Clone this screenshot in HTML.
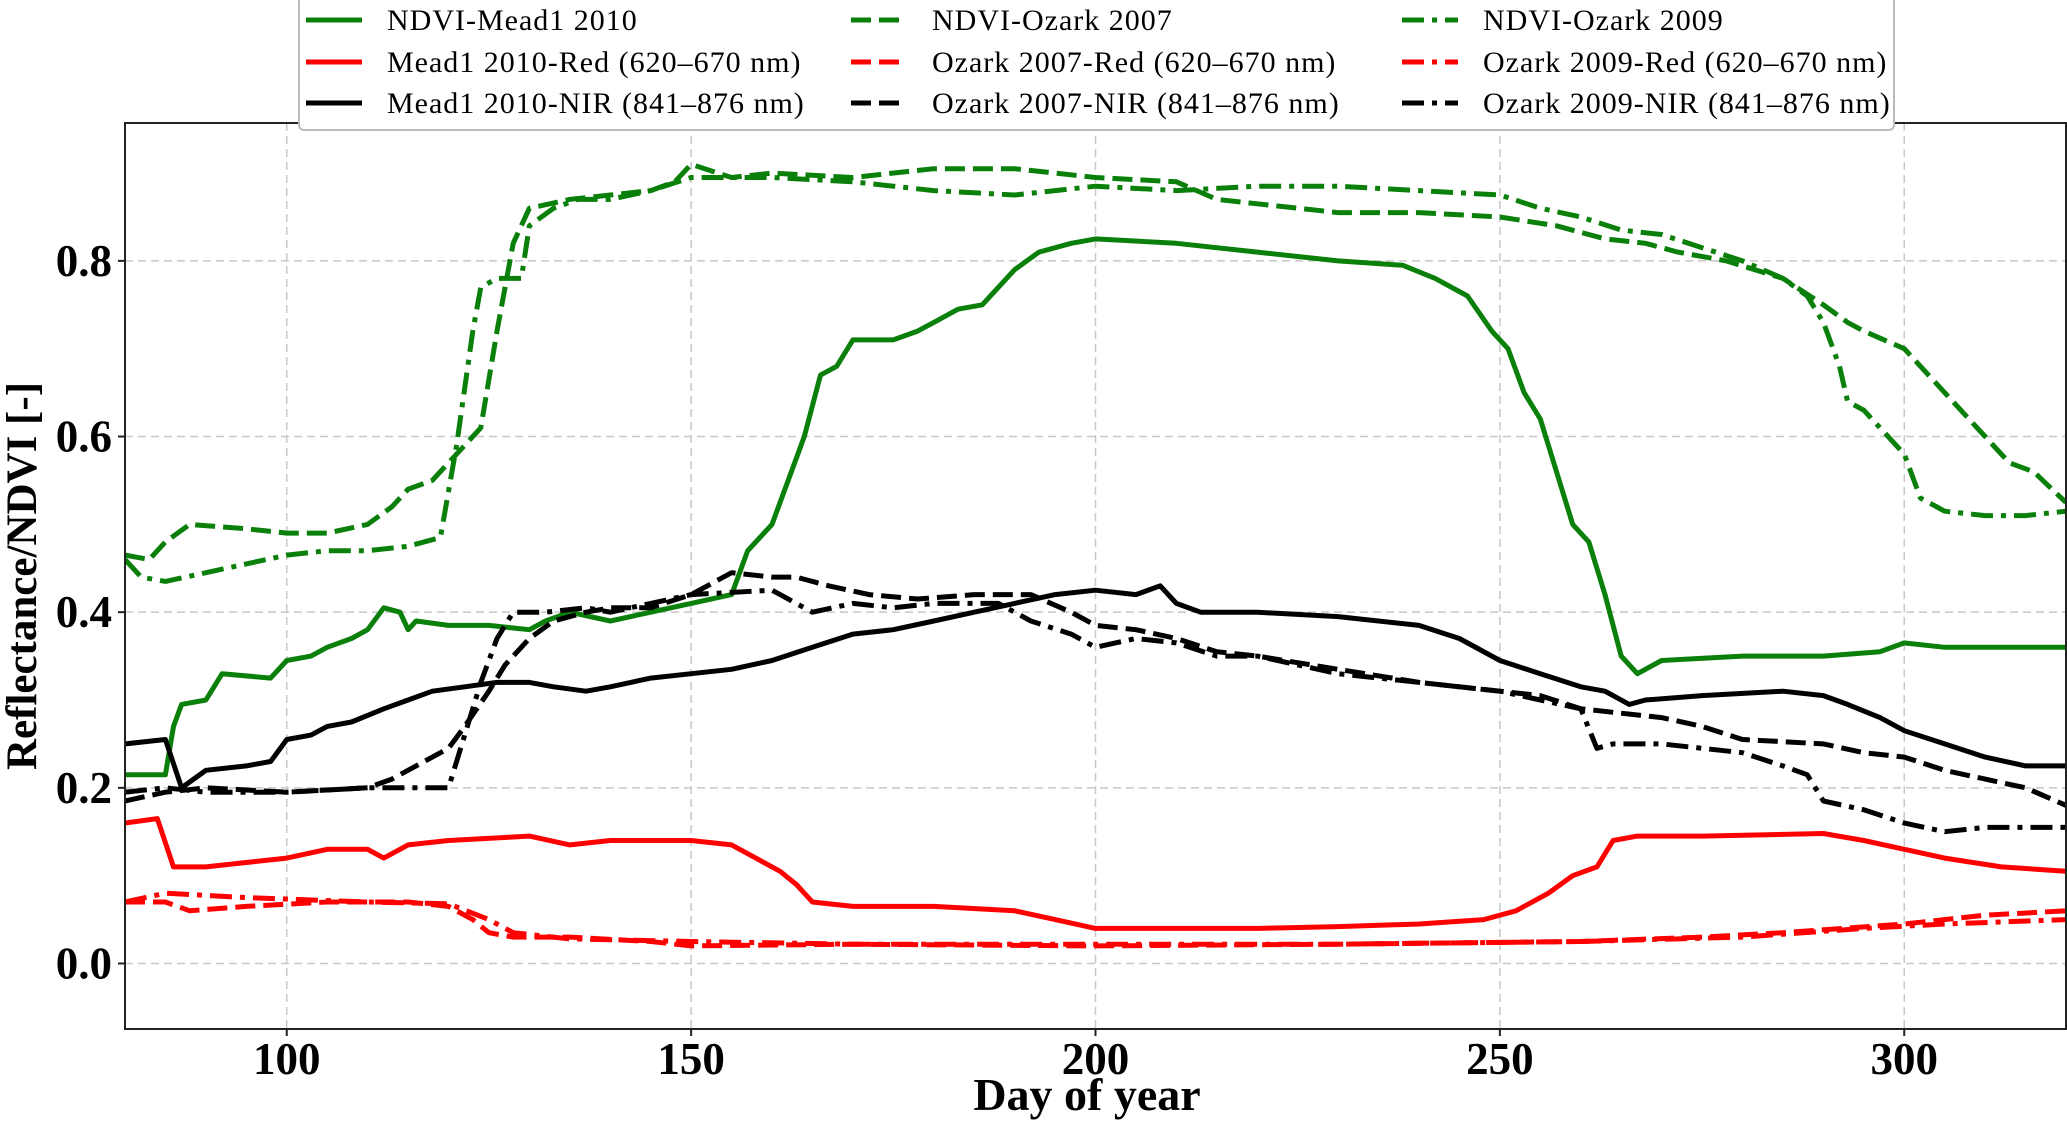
<!DOCTYPE html>
<html><head><meta charset="utf-8"><style>
html,body{margin:0;padding:0;background:#fff;}
svg{display:block;font-family:"Liberation Serif",serif;}
</style></head><body>
<svg id="chart" width="2067" height="1124" xmlns="http://www.w3.org/2000/svg">
<g id="grid"></g>
<g id="series"></g>
<rect x="125" y="123" width="1941" height="906" fill="none" stroke="#222" stroke-width="2"/>
<g id="ticks"></g>
<text x="1087" y="1110" font-size="46" font-weight="bold" text-anchor="middle">Day of year</text>
<text transform="translate(36,576) rotate(-90)" font-size="43" font-weight="bold" text-anchor="middle">Reflectance/NDVI [-]</text>
<g id="legend"></g>
</svg>
<script>
const xTicks=[100,150,200,250,300];
const yTicks=[0.0,0.2,0.4,0.6,0.8];
const ndviMeadDays=[80,85,86,87,90,92,98,100,103,105,108,110,112,114,115,116,120,125,130,132,135,140,145,150,155,157,160,162,164,166,168,170,175,178,180,183,186,190,193,197,200,210,220,230,238,242,246,249,251,253,255,257,259,261,263,265,267,270,280,290,297,300,305,315,320];
const ndviMeadVals=[0.215,0.215,0.27,0.295,0.30,0.33,0.325,0.345,0.35,0.36,0.37,0.38,0.405,0.40,0.38,0.39,0.385,0.385,0.38,0.39,0.40,0.39,0.40,0.41,0.42,0.47,0.50,0.55,0.60,0.67,0.68,0.71,0.71,0.72,0.73,0.745,0.75,0.79,0.81,0.82,0.825,0.82,0.81,0.80,0.795,0.78,0.76,0.72,0.70,0.65,0.62,0.56,0.50,0.48,0.42,0.35,0.33,0.345,0.35,0.35,0.355,0.365,0.36,0.36,0.36];
const ndviOz07Days=[80,83,85,88,95,100,105,110,113,115,118,121,124,126,128,130,135,140,145,148,150,155,160,170,180,190,200,210,215,220,230,240,250,257,263,268,272,278,285,290,293,295,300,303,306,310,313,316,320];
const ndviOz07Vals=[0.465,0.46,0.48,0.50,0.495,0.49,0.49,0.50,0.52,0.54,0.55,0.58,0.61,0.72,0.82,0.86,0.87,0.875,0.88,0.89,0.91,0.895,0.90,0.895,0.905,0.905,0.895,0.89,0.87,0.865,0.855,0.855,0.85,0.84,0.825,0.82,0.81,0.80,0.78,0.75,0.73,0.72,0.70,0.67,0.64,0.60,0.57,0.56,0.525];
const ndviOz09Days=[80,82,85,90,95,100,105,110,115,119,121,123,124,126,129,130,133,136,140,145,150,160,170,180,190,200,210,220,230,240,250,255,260,265,270,275,280,285,288,290,292,293,295,297,300,302,305,310,315,320];
const ndviOz09Vals=[0.46,0.44,0.435,0.445,0.455,0.465,0.47,0.47,0.475,0.485,0.59,0.72,0.77,0.78,0.78,0.84,0.86,0.87,0.87,0.88,0.895,0.895,0.89,0.88,0.875,0.885,0.88,0.885,0.885,0.88,0.875,0.86,0.85,0.835,0.83,0.815,0.80,0.78,0.76,0.73,0.68,0.64,0.63,0.61,0.58,0.53,0.515,0.51,0.51,0.515];
const redMeadDays=[80,84,86,90,95,100,105,110,112,115,120,130,135,140,150,155,158,161,163,165,170,180,190,195,200,210,220,230,240,248,252,256,259,262,264,267,275,290,295,300,305,312,320];
const redMeadVals=[0.16,0.165,0.11,0.11,0.115,0.12,0.13,0.13,0.12,0.135,0.14,0.145,0.135,0.14,0.14,0.135,0.12,0.105,0.09,0.07,0.065,0.065,0.06,0.05,0.04,0.04,0.04,0.042,0.045,0.05,0.06,0.08,0.10,0.11,0.14,0.145,0.145,0.148,0.14,0.13,0.12,0.11,0.105];
const redOz07Days=[80,85,88,95,105,115,120,123,125,128,135,145,150,170,200,230,260,275,285,300,310,320];
const redOz07Vals=[0.07,0.07,0.06,0.065,0.07,0.07,0.065,0.05,0.035,0.03,0.03,0.025,0.02,0.022,0.02,0.022,0.025,0.03,0.035,0.045,0.055,0.06];
const redOz09Days=[80,85,95,110,120,125,128,135,150,170,200,230,260,280,295,305,320];
const redOz09Vals=[0.07,0.08,0.075,0.07,0.068,0.05,0.035,0.028,0.025,0.022,0.022,0.022,0.025,0.03,0.04,0.045,0.05];
const nirMeadDays=[80,85,87,90,95,98,100,103,105,108,112,115,118,122,126,130,133,137,140,145,150,155,160,165,170,175,180,185,190,195,200,205,208,210,213,220,230,240,245,250,255,260,263,266,268,275,285,290,293,297,300,305,310,315,320];
const nirMeadVals=[0.25,0.255,0.20,0.22,0.225,0.23,0.255,0.26,0.27,0.275,0.29,0.30,0.31,0.315,0.32,0.32,0.315,0.31,0.315,0.325,0.33,0.335,0.345,0.36,0.375,0.38,0.39,0.40,0.41,0.42,0.425,0.42,0.43,0.41,0.40,0.40,0.395,0.385,0.37,0.345,0.33,0.315,0.31,0.295,0.30,0.305,0.31,0.305,0.295,0.28,0.265,0.25,0.235,0.225,0.225];
const nirOz07Days=[80,85,90,100,110,113,117,120,122,125,127,130,133,137,140,145,150,155,160,163,167,172,178,185,192,197,200,205,210,215,220,230,240,250,255,260,265,270,275,280,290,295,300,305,310,315,320];
const nirOz07Vals=[0.185,0.195,0.20,0.195,0.20,0.21,0.23,0.245,0.27,0.31,0.34,0.37,0.39,0.40,0.405,0.405,0.42,0.445,0.44,0.44,0.43,0.42,0.415,0.42,0.42,0.40,0.385,0.38,0.37,0.355,0.35,0.335,0.32,0.31,0.305,0.29,0.285,0.28,0.27,0.255,0.25,0.24,0.235,0.22,0.21,0.20,0.18];
const nirOz09Days=[80,85,90,100,110,116,120,122,124,126,128,132,137,140,145,150,160,165,170,175,180,188,192,197,200,205,210,215,220,230,240,250,255,260,262,264,270,275,280,285,288,290,295,300,305,310,320];
const nirOz09Vals=[0.195,0.20,0.195,0.195,0.20,0.20,0.20,0.26,0.32,0.37,0.40,0.40,0.405,0.40,0.41,0.42,0.425,0.40,0.41,0.405,0.41,0.41,0.39,0.375,0.36,0.37,0.365,0.35,0.35,0.33,0.32,0.31,0.30,0.29,0.245,0.25,0.25,0.245,0.24,0.225,0.215,0.185,0.175,0.16,0.15,0.155,0.155];

const NS="http://www.w3.org/2000/svg";
const L=125,R=2066,T=123,B=1029,X0=80,X1=320,Y0=-0.0746,Y1=0.957;
function xs(d){return L+(d-X0)/(X1-X0)*(R-L);}
function ys(v){return B-(v-Y0)/(Y1-Y0)*(B-T);}
function mk(tag,attrs,parent){const e=document.createElementNS(NS,tag);for(const k in attrs)e.setAttribute(k,attrs[k]);parent.appendChild(e);return e;}
const grid=document.getElementById('grid'),ticks=document.getElementById('ticks');
xTicks.forEach(t=>{
  const g=mk('line',{x1:xs(t),x2:xs(t),y1:T,y2:B,stroke:'#c8c8c8','stroke-width':1.5,'stroke-dasharray':'8,5'},grid);
  
  
  mk('line',{x1:xs(t),x2:xs(t),y1:B,y2:B+7,stroke:'#222','stroke-width':2},ticks);
  const tx=mk('text',{x:xs(t),y:B+45,'font-size':45,'font-weight':'bold','text-anchor':'middle'},ticks);
  tx.textContent=String(t);
  
  
});
yTicks.forEach(t=>{
  const g=mk('line',{x1:L,x2:R,y1:ys(t),y2:ys(t),stroke:'#c8c8c8','stroke-width':1.5,'stroke-dasharray':'8,5'},grid);
  
  
  mk('line',{x1:L-7,x2:L,y1:ys(t),y2:ys(t),stroke:'#222','stroke-width':2},ticks);
  const tx=mk('text',{x:L-13,y:ys(t)+15,'font-size':45,'font-weight':'bold','text-anchor':'end'},ticks);
  tx.textContent=t.toFixed(1);
  
  
});
const DASH='20,8', DOT='22,8,5,8';
const series=[
 {n:'ndvi-mead1-2010',d:ndviMeadDays,v:ndviMeadVals,c:'#0a800a',s:''},
 {n:'ndvi-ozark-2007',d:ndviOz07Days,v:ndviOz07Vals,c:'#0a800a',s:DASH},
 {n:'ndvi-ozark-2009',d:ndviOz09Days,v:ndviOz09Vals,c:'#0a800a',s:DOT},
 {n:'red-mead1-2010',d:redMeadDays,v:redMeadVals,c:'#ff0000',s:''},
 {n:'red-ozark-2007',d:redOz07Days,v:redOz07Vals,c:'#ff0000',s:DASH},
 {n:'red-ozark-2009',d:redOz09Days,v:redOz09Vals,c:'#ff0000',s:DOT},
 {n:'nir-mead1-2010',d:nirMeadDays,v:nirMeadVals,c:'#000000',s:''},
 {n:'nir-ozark-2007',d:nirOz07Days,v:nirOz07Vals,c:'#000000',s:DASH},
 {n:'nir-ozark-2009',d:nirOz09Days,v:nirOz09Vals,c:'#000000',s:DOT}
];
const sg=document.getElementById('series');
const clip=mk('clipPath',{id:'pc'},sg);mk('rect',{x:L,y:T,width:R-L,height:B-T},clip);
series.forEach(s=>{
  const pts=s.d.map((d,i)=>xs(d).toFixed(1)+','+ys(s.v[i]).toFixed(1)).join(' ');
  const a={points:pts,fill:'none',stroke:s.c,'stroke-width':5,'stroke-linejoin':'round','clip-path':'url(#pc)'};
  if(s.s)a['stroke-dasharray']=s.s;
  const p=mk('polyline',a,sg);
  
  
});
const lg=document.getElementById('legend');
const box=mk('rect',{x:299,y:-4,width:1595,height:134,rx:5,fill:'#fff',stroke:'#bbb','stroke-width':2},lg);


const labels=['NDVI-Mead1 2010','NDVI-Ozark 2007','NDVI-Ozark 2009','Mead1 2010-Red (620\u2013670 nm)','Ozark 2007-Red (620\u2013670 nm)','Ozark 2009-Red (620\u2013670 nm)','Mead1 2010-NIR (841\u2013876 nm)','Ozark 2007-NIR (841\u2013876 nm)','Ozark 2009-NIR (841\u2013876 nm)'];
const colX=[306,851,1402],rowY=[20,62,103];
[0,1,2].forEach(row=>[0,1,2].forEach(col=>{
  const si=[[0,1,2],[3,4,5],[6,7,8]][row][col];
  const s=series[si];
  const a={x1:colX[col],x2:colX[col]+56,y1:rowY[row],y2:rowY[row],stroke:s.c,'stroke-width':5};
  if(s.s)a['stroke-dasharray']=s.s;
  const h=mk('line',a,lg);
  
  
  const t=mk('text',{x:colX[col]+81,y:rowY[row]+10,'font-size':30,'letter-spacing':'1'},lg);
  t.textContent=labels[si];
  
  
}));
</script>
</body></html>
